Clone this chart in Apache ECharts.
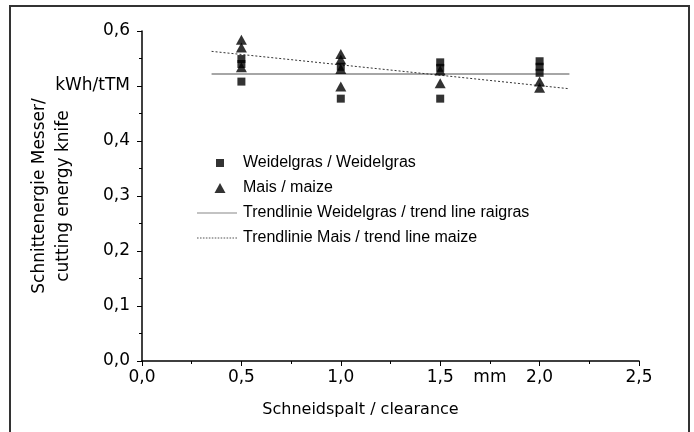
<!DOCTYPE html>
<html>
<head>
<meta charset="utf-8">
<script src="https://cdn.jsdelivr.net/npm/echarts@6/dist/echarts.min.js"></script>
<style>
html,body{margin:0;padding:0;background:#fff;}
#c{width:694px;height:432px;}
</style>
</head>
<body>
<div id="c"></div>
<script>
// Data
const weidelgrasX = [0.5, 0.5, 0.5, 1.0, 1.0, 1.5, 1.5, 1.5, 2.0, 2.0, 2.0];
const weidelgrasY = [0.549, 0.540, 0.508, 0.535, 0.477, 0.543, 0.533, 0.477, 0.545, 0.535, 0.524];
const maisX = [0.5, 0.5, 0.5, 1.0, 1.0, 1.0, 1.0, 1.5, 1.5, 2.0, 2.0];
const maisY = [0.584, 0.570, 0.534, 0.558, 0.548, 0.531, 0.499, 0.528, 0.505, 0.508, 0.497];
const trendWeidelgrasX = [0.35, 2.15];
const trendWeidelgrasY = [0.522, 0.522];
const trendMaisX = [0.35, 2.15];
const trendMaisY = [0.563, 0.495];
const xTicks = ['0,0', '0,5', '1,0', '1,5', '2,0', '2,5'];
const yTicks = ['0,0', '0,1', '0,2', '0,3', '0,4', 'kWh/tTM', '0,6'];
const xUnit = 'mm';
const seriesNames = ['Weidelgras / Weidelgras', 'Mais / maize', 'Trendlinie Weidelgras / trend line raigras', 'Trendlinie Mais / trend line maize'];

const zip = (xs, ys) => xs.map((x, i) => [x, ys[i]]);
const FONT = 'DejaVu Sans';
const LFONT = 'Liberation Sans';

// legend icons (40 x 10 box kept via invisible corner moves)
const BOX = 'M0,0 M40,10 ';
const iconSquare = 'path://' + BOX + 'M19,1 h8 v8 h-8 z';
const iconTriangle = 'path://' + BOX + 'M23,0 L28.5,10 L17.5,10 z';
const iconSolid = 'path://' + BOX + 'M0,4.4 h40 v1.2 h-40 z';
let dots = '';
for (let x = 0; x < 40; x += 3) dots += 'M' + x + ',4.5 h1.6 v1 h-1.6 z ';
const iconDotted = 'path://' + BOX + dots;

const chart = echarts.init(document.getElementById('c'), null, {renderer: 'canvas'});
chart.setOption({
  backgroundColor: '#fff',
  animation: false,
  textStyle: {fontFamily: FONT, color: '#000'},
  grid: {left: 142, right: 55, top: 31, bottom: 71, containLabel: false},
  graphic: [{
    type: 'rect',
    shape: {x: 10, y: 6, width: 679, height: 440},
    style: {fill: 'none', stroke: '#333', lineWidth: 2},
    silent: true
  }],
  legend: {
    orient: 'vertical',
    left: 197,
    top: 155,
    itemWidth: 40,
    itemHeight: 10,
    itemGap: 9,
    padding: 0,
    data: [
      {name: seriesNames[0], icon: iconSquare, itemStyle: {color: '#000'}},
      {name: seriesNames[1], icon: iconTriangle, itemStyle: {color: '#000'}},
      {name: seriesNames[2], icon: iconSolid, itemStyle: {color: '#888'}},
      {name: seriesNames[3], icon: iconDotted, itemStyle: {color: '#555'}}
    ],
    textStyle: {fontFamily: LFONT, fontSize: 16, color: '#000', lineHeight: 16, padding: [0, 0, 0, 1]}
  },
  xAxis: [{
    type: 'value',
    min: 0, max: 2.5, interval: 0.5,
    name: 'Schneidspalt / clearance',
    nameLocation: 'middle',
    nameGap: 41,
    nameMoveOverlap: false,
    nameTextStyle: {fontFamily: FONT, fontSize: 16, color: '#000', padding: [0, 60, 0, 0]},
    axisLine: {show: true, lineStyle: {color: '#000', width: 1.5}},
    axisTick: {show: true, length: 5, lineStyle: {color: '#000', width: 1}},
    minorTick: {show: true, splitNumber: 2, length: 3, lineStyle: {color: '#000', width: 1}},
    splitLine: {show: false},
    minorSplitLine: {show: false},
    axisLabel: {
      margin: 8, fontFamily: FONT, fontSize: 17, color: '#000',
      formatter: (v) => xTicks[Math.round(v / 0.5)]
    }
  }, {
    type: 'value',
    position: 'bottom',
    min: 0, max: 2.5, interval: 0.25,
    axisLine: {show: false},
    axisTick: {show: false},
    splitLine: {show: false},
    axisLabel: {
      margin: 8, fontFamily: FONT, fontSize: 17, color: '#000',
      formatter: (v) => Math.abs(v - 1.75) < 1e-6 ? xUnit : ''
    }
  }],
  yAxis: {
    type: 'value',
    min: 0, max: 0.6, interval: 0.1,
    name: 'Schnittenergie Messer/\ncutting energy knife',
    nameLocation: 'middle',
    nameGap: 66,
    nameMoveOverlap: false,
    nameTextStyle: {fontFamily: FONT, fontSize: 17, color: '#000', lineHeight: 24},
    axisLine: {show: true, lineStyle: {color: '#000', width: 1.5}},
    axisTick: {show: true, length: 5, lineStyle: {color: '#000', width: 1}},
    minorTick: {show: true, splitNumber: 2, length: 3, lineStyle: {color: '#000', width: 1}},
    splitLine: {show: false},
    minorSplitLine: {show: false},
    axisLabel: {
      margin: 12, fontFamily: FONT, fontSize: 17, color: '#000',
      formatter: (v) => yTicks[Math.round(v / 0.1)]
    }
  },
  series: [{
    name: seriesNames[0],
    type: 'scatter',
    symbol: 'rect',
    symbolSize: 8,
    itemStyle: {color: '#000'},
    data: zip(weidelgrasX, weidelgrasY),
    z: 5
  }, {
    name: seriesNames[1],
    type: 'scatter',
    symbol: 'triangle',
    symbolSize: [11, 10],
    itemStyle: {color: '#000'},
    data: zip(maisX, maisY),
    z: 5
  }, {
    name: seriesNames[2],
    type: 'line',
    showSymbol: false,
    symbol: 'none',
    lineStyle: {color: '#888', width: 1.5, type: 'solid'},
    itemStyle: {color: '#888'},
    data: zip(trendWeidelgrasX, trendWeidelgrasY),
    z: 3
  }, {
    name: seriesNames[3],
    type: 'line',
    showSymbol: false,
    symbol: 'none',
    lineStyle: {color: '#333', width: 1, type: [2, 2]},
    itemStyle: {color: '#333'},
    data: zip(trendMaisX, trendMaisY),
    z: 3
  }]
});
</script>
</body>
</html>
